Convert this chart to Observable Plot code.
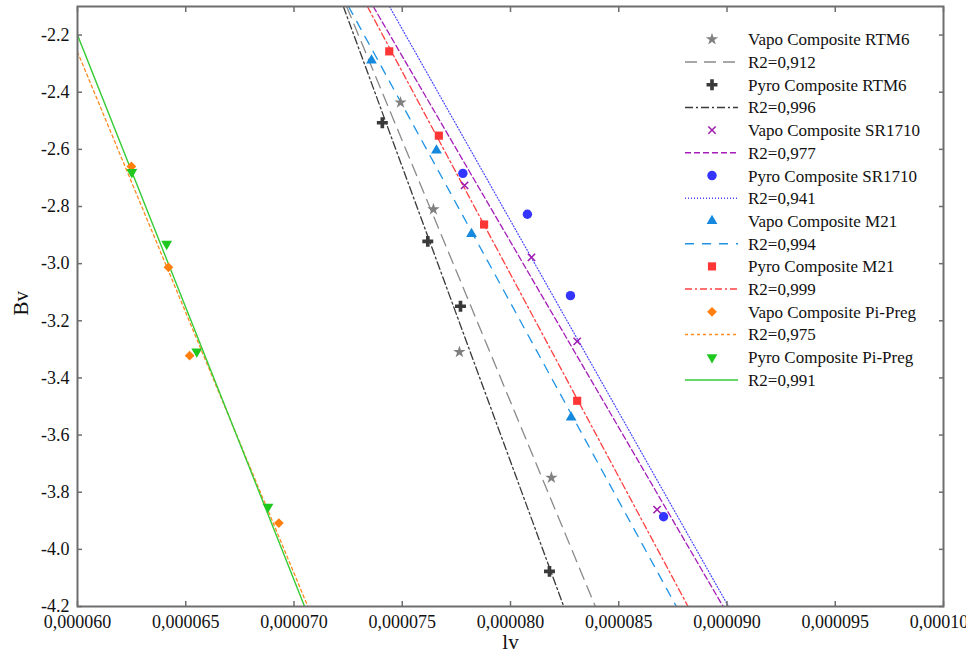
<!DOCTYPE html>
<html>
<head>
<meta charset="utf-8">
<script src="https://cdn.jsdelivr.net/npm/d3@7"></script>
<script src="https://cdn.jsdelivr.net/npm/@observablehq/plot@0.6"></script>
<style>
html, body { margin: 0; padding: 0; background: #fff; }
#wrap { position: relative; width: 966px; height: 658px; overflow: hidden; }
#wrap svg.legend { position: absolute; left: 0; top: 0; }
</style>
</head>
<body>
<div id="wrap"></div>
<script>
// ---------- data ----------
const seriesNames = [
  "Vapo Composite RTM6", "Pyro Composite RTM6",
  "Vapo Composite SR1710", "Pyro Composite SR1710",
  "Vapo Composite M21", "Pyro Composite M21",
  "Vapo Composite Pi-Preg", "Pyro Composite Pi-Preg"
];
const fitLabels = ["R2=0,912", "R2=0,996", "R2=0,977", "R2=0,941", "R2=0,994", "R2=0,999", "R2=0,975", "R2=0,991"];

const lvVapoRTM6   = [7.492e-5, 7.644e-5, 7.764e-5, 8.189e-5];
const bvVapoRTM6   = [-2.436, -2.810, -3.309, -3.749];
const lvPyroRTM6   = [7.408e-5, 7.618e-5, 7.769e-5, 8.180e-5];
const bvPyroRTM6   = [-2.507, -2.922, -3.149, -4.077];
const lvVapoSR1710 = [7.788e-5, 8.097e-5, 8.308e-5, 8.677e-5];
const bvVapoSR1710 = [-2.726, -2.978, -3.272, -3.861];
const lvPyroSR1710 = [7.780e-5, 8.078e-5, 8.277e-5, 8.707e-5];
const bvPyroSR1710 = [-2.684, -2.827, -3.112, -3.886];
const lvVapoM21    = [7.358e-5, 7.658e-5, 7.820e-5, 8.280e-5];
const bvVapoM21    = [-2.289, -2.604, -2.896, -3.538];
const lvPyroM21    = [7.440e-5, 7.669e-5, 7.878e-5, 8.308e-5];
const bvPyroM21    = [-2.257, -2.552, -2.863, -3.480];
const lvVapoPiPreg = [6.249e-5, 6.420e-5, 6.518e-5, 6.930e-5];
const bvVapoPiPreg = [-2.660, -3.013, -3.322, -3.908];
const lvPyroPiPreg = [6.251e-5, 6.412e-5, 6.551e-5, 6.880e-5];
const bvPyroPiPreg = [-2.680, -2.931, -3.308, -3.851];

// fitted trend lines: two end points each (lv, Bv)
const fitLvVapoRTM6   = [7.243e-5, 8.392e-5];  const fitBvVapoRTM6   = [-2.1, -4.2];
const fitLvPyroRTM6   = [7.228e-5, 8.246e-5];  const fitBvPyroRTM6   = [-2.1, -4.2];
const fitLvVapoSR1710 = [7.366e-5, 8.982e-5];  const fitBvVapoSR1710 = [-2.1, -4.2];
const fitLvPyroSR1710 = [7.441e-5, 9.007e-5];  const fitBvPyroSR1710 = [-2.1, -4.2];
const fitLvVapoM21    = [7.252e-5, 8.766e-5];  const fitBvVapoM21    = [-2.1, -4.2];
const fitLvPyroM21    = [7.339e-5, 8.820e-5];  const fitBvPyroM21    = [-2.1, -4.2];
const fitLvVapoPiPreg = [6.000e-5, 7.064e-5];  const fitBvVapoPiPreg = [-2.259, -4.2];
const fitLvPyroPiPreg = [6.000e-5, 7.049e-5];  const fitBvPyroPiPreg = [-2.2, -4.2];

const xTicks = [0.000060, 0.000065, 0.000070, 0.000075, 0.000080, 0.000085, 0.000090, 0.000095, 0.000100];
const yTicks = [-2.2, -2.4, -2.6, -2.8, -3.0, -3.2, -3.4, -3.6, -3.8, -4.0, -4.2];

// ---------- assemble ----------
const lvData = [lvVapoRTM6, lvPyroRTM6, lvVapoSR1710, lvPyroSR1710, lvVapoM21, lvPyroM21, lvVapoPiPreg, lvPyroPiPreg];
const bvData = [bvVapoRTM6, bvPyroRTM6, bvVapoSR1710, bvPyroSR1710, bvVapoM21, bvPyroM21, bvVapoPiPreg, bvPyroPiPreg];
const fitLv = [fitLvVapoRTM6, fitLvPyroRTM6, fitLvVapoSR1710, fitLvPyroSR1710, fitLvVapoM21, fitLvPyroM21, fitLvVapoPiPreg, fitLvPyroPiPreg];
const fitBv = [fitBvVapoRTM6, fitBvPyroRTM6, fitBvVapoSR1710, fitBvPyroSR1710, fitBvVapoM21, fitBvPyroM21, fitBvVapoPiPreg, fitBvPyroPiPreg];

// ---------- styles ----------
const markColors = ["#808080", "#3a3a3a", "#a01eb0", "#3434ff", "#1589dd", "#ff3636", "#ff7f0e", "#1ec81e"];
const lineColors = ["#8a8a8a", "#3a3a3a", "#a51cb8", "#4646ff", "#1e93e6", "#ff4040", "#ff8a1e", "#36cc36"];
const dashes = ["12,7", "8,3,2,3", "6,3", "1,2", "9,8", "7,3,2,3", "3,3", null];
const widths = [1.3, 1.3, 1.3, 1.2, 1.3, 1.3, 1.3, 1.4];
const symbols = ["star", "cross", "times", "circle", "triangle", "square", "diamond2", "triangle"];
const rotations = [0, 0, 0, 0, 0, 0, 0, 180];
const radii = [3.9, 4.6, 3.4, 4.7, 4.0, 4.6, 4.4, 4.0];

const fmtX = d => d3.format(".6f")(d).replace(".", ",");
const fmtY = d => d3.format(".1f")(d).replace("\u2212", "-");
const frameGray = "#6e6e6e";
const font = "'Liberation Serif', 'Times New Roman', serif";

const marks = [];
seriesNames.forEach((name, i) => {
  const fit = fitLv[i].map((x, j) => ({lv: x, bv: fitBv[i][j]}));
  marks.push(Plot.line(fit, {
    x: "lv", y: "bv", stroke: lineColors[i], strokeWidth: widths[i],
    strokeDasharray: dashes[i] || undefined, clip: true
  }));
});
seriesNames.forEach((name, i) => {
  const pts = lvData[i].map((x, j) => ({series: name, lv: x, bv: bvData[i][j]}));
  const isStroke = symbols[i] === "times";
  marks.push(Plot.dot(pts, {
    x: "lv", y: "bv", symbol: symbols[i], r: radii[i], rotate: rotations[i],
    fill: isStroke ? "none" : markColors[i],
    stroke: isStroke ? markColors[i] : "none",
    strokeWidth: isStroke ? 1.6 : 0
  }));
});

const chart = Plot.plot({
  width: 966, height: 658,
  marginLeft: 77, marginRight: 23, marginTop: 6, marginBottom: 52,
  style: {fontFamily: font, fontSize: "18px", color: "#111", background: "white"},
  x: {domain: [0.00006, 0.0001]},
  y: {domain: [-4.2, -2.1]},
  marks: [
    ...marks,
    Plot.axisX({anchor: "bottom", ticks: xTicks, tickFormat: fmtX, tickSize: -5, tickPadding: 14,
                stroke: frameGray, strokeWidth: 1.5, fill: "#111", label: null}),
    Plot.axisX({anchor: "top", ticks: xTicks, tickFormat: () => "", tickSize: -5,
                stroke: frameGray, strokeWidth: 1.5, label: null}),
    Plot.axisY({anchor: "left", ticks: yTicks, tickFormat: fmtY, tickSize: -5, tickPadding: 13,
                stroke: frameGray, strokeWidth: 1.5, fill: "#111", label: null}),
    Plot.axisY({anchor: "right", ticks: yTicks, tickFormat: () => "", tickSize: -5,
                stroke: frameGray, strokeWidth: 1.5, label: null}),
    Plot.frame({stroke: frameGray, strokeWidth: 2}),
    Plot.text(["lv"], {text: d => d, frameAnchor: "bottom", dy: 42, fontSize: 21, fill: "#111"}),
    Plot.text(["Bv"], {text: d => d, frameAnchor: "left", rotate: -90, dx: -56, dy: 9, fontSize: 21, fill: "#111"})
  ]
});

const wrap = document.getElementById("wrap");
wrap.appendChild(chart);

// ---------- legend overlay ----------
const legend = d3.select(wrap).append("svg")
  .attr("class", "legend")
  .attr("width", 966).attr("height", 658)
  .style("font-family", font).style("font-size", "17px");

const symMap = {
  star: d3.symbolStar, cross: d3.symbolCross, times: d3.symbolTimes, circle: d3.symbolCircle,
  triangle: d3.symbolTriangle, square: d3.symbolSquare, diamond2: d3.symbolDiamond2
};
const rowY0 = 39.3, rowStep = 22.71;
const symX = 712, lineX1 = 685, lineX2 = 738, textX = 748;

seriesNames.forEach((name, i) => {
  const ys = rowY0 + rowStep * (2 * i);
  const yl = rowY0 + rowStep * (2 * i + 1);
  const isStroke = symbols[i] === "times";
  const r = radii[i];
  legend.append("path")
    .attr("d", d3.symbol(symMap[symbols[i]], Math.PI * r * r)())
    .attr("transform", `translate(${symX},${ys}) rotate(${rotations[i]})`)
    .attr("fill", isStroke ? "none" : markColors[i])
    .attr("stroke", isStroke ? markColors[i] : "none")
    .attr("stroke-width", isStroke ? 1.6 : 0);
  legend.append("text").attr("x", textX).attr("y", ys).attr("dy", "0.35em")
    .attr("fill", "#111").text(name);
  legend.append("line")
    .attr("x1", lineX1).attr("x2", lineX2).attr("y1", yl).attr("y2", yl)
    .attr("stroke", lineColors[i]).attr("stroke-width", 1.5)
    .attr("stroke-dasharray", dashes[i]);
  legend.append("text").attr("x", textX).attr("y", yl).attr("dy", "0.35em")
    .attr("fill", "#111").text(fitLabels[i]);
});
</script>
</body>
</html>
